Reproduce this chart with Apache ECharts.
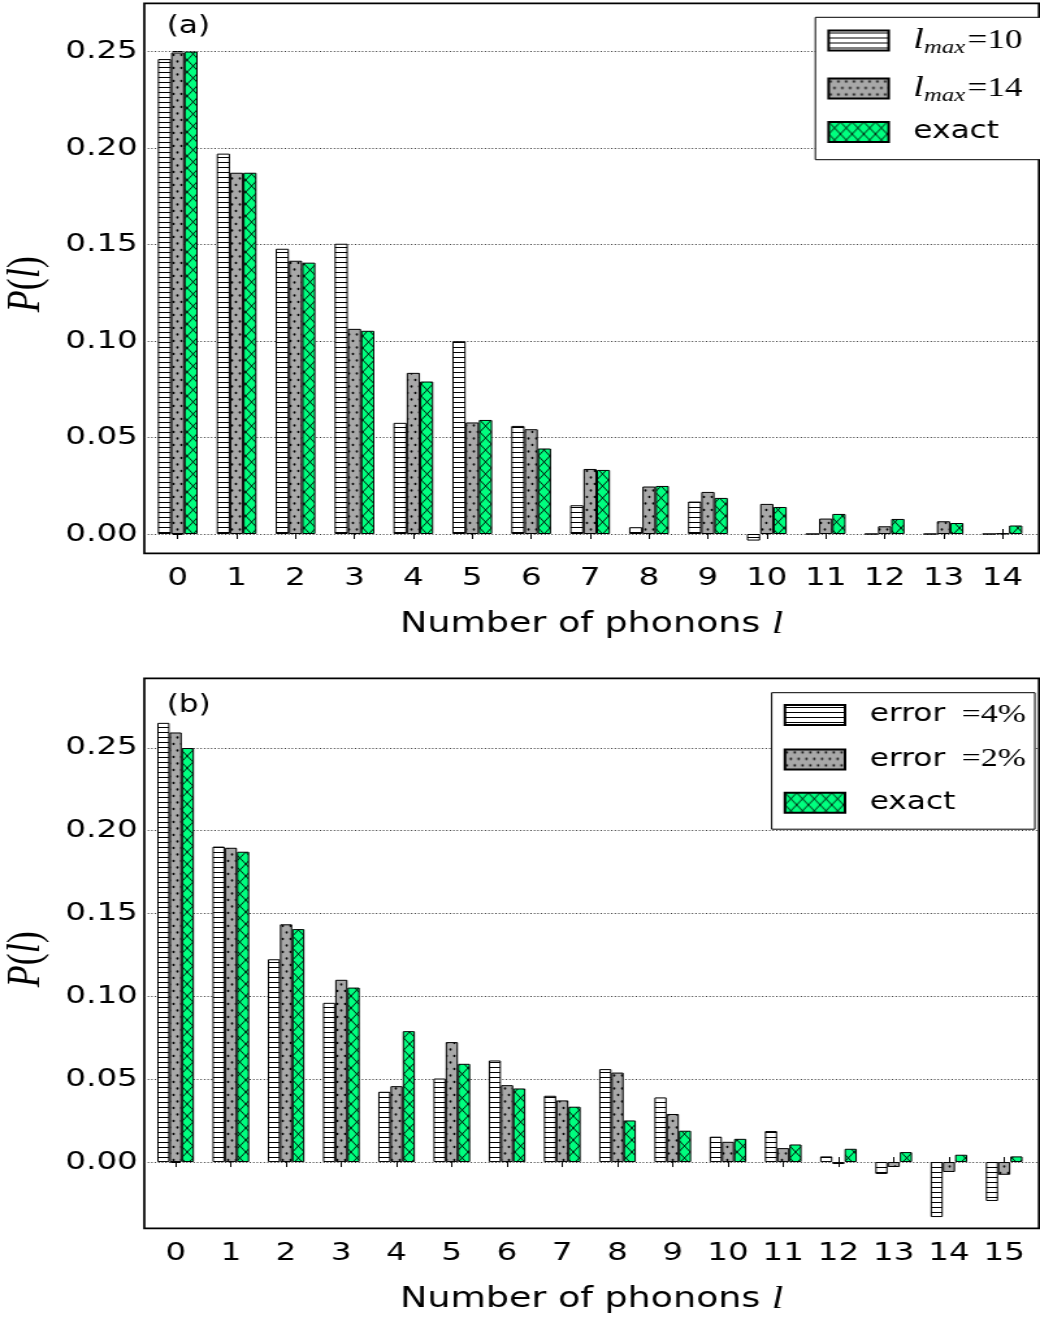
<!DOCTYPE html>
<html><head><meta charset="utf-8">
<script src="https://cdn.jsdelivr.net/npm/echarts@6/dist/echarts.min.js"></script>
<style>
html,body{margin:0;padding:0;background:#fff;overflow:hidden;}
#chart{width:800px;height:1322px;transform:scaleX(1.3);transform-origin:0 0;}
</style></head><body><div id="chart"></div>
<script>
// ---- data ----
const phononsA = [0,1,2,3,4,5,6,7,8,9,10,11,12,13,14];
const lmax10 = [0.2461,0.1971,0.1478,0.1504,0.0576,0.0999,0.0560,0.0149,0.0035,0.0168,-0.0034,0,0,0,0];
const lmax14 = [0.2495,0.1872,0.1416,0.1063,0.0835,0.0578,0.0543,0.0337,0.0246,0.0218,0.0156,0.0080,0.0040,0.0066,0.0003];
const exactA = [0.2500,0.1872,0.1406,0.1053,0.0790,0.0591,0.0443,0.0332,0.0249,0.0187,0.0140,0.0104,0.0078,0.0057,0.0044];
const phononsB = [0,1,2,3,4,5,6,7,8,9,10,11,12,13,14,15];
const err4 = [0.2651,0.1904,0.1224,0.0961,0.0424,0.0504,0.0613,0.0400,0.0561,0.0390,0.0153,0.0187,0.0034,-0.0072,-0.0332,-0.0235];
const err2 = [0.2593,0.1897,0.1435,0.1100,0.0458,0.0724,0.0464,0.0372,0.0540,0.0290,0.0122,0.0084,-0.0012,-0.0030,-0.0060,-0.0077];
const exactB = [0.2499,0.1873,0.1406,0.1053,0.0790,0.0593,0.0444,0.0334,0.0251,0.0189,0.0140,0.0106,0.0080,0.0060,0.0044,0.0034];
const yTickVals = [0,0.05,0.10,0.15,0.20,0.25];

// ---- patterns ----
function makePattern(w,h,bg,draw){
  const c=document.createElement('canvas'); c.width=w; c.height=h;
  const g=c.getContext('2d'); g.fillStyle=bg; g.fillRect(0,0,w,h); draw(g,w,h);
  return {image:c, repeat:'repeat'};
}
const patLines = makePattern(8,5,'#ffffff',(g,w)=>{g.fillStyle='#000'; g.fillRect(0,2,w,1);});
const patDots = makePattern(6,13,'#a8a8a8',(g)=>{
  g.fillStyle='#000';
  [[1.5,3],[4.5,9.5]].forEach(p=>{g.beginPath(); g.ellipse(p[0],p[1],0.9,1.15,0,0,Math.PI*2); g.fill();});
});
const patCross = makePattern(9,12,'#00ff7f',(g,w,h)=>{
  g.strokeStyle='#000'; g.lineWidth=0.9; g.beginPath();
  for(const dx of [-w,0,w]) for(const dy of [-h,0,h]){
    g.moveTo(dx,dy); g.lineTo(dx+w,dy+h);
    g.moveTo(dx+w,dy); g.lineTo(dx,dy+h);
  }
  g.stroke();
});

const FONT = 'DejaVu Sans';
const SERIF = 'Liberation Serif';

function xAxes(grid, maxV, ticks, showLabels, pos){
  return {
    gridIndex:grid, type:'value', min:-0.567, max:maxV, position:pos,
    axisLine:{show:false},
    axisTick:{show:true, inside:true, length:5, customValues:ticks, lineStyle:{color:'#000',width:1}},
    axisLabel:{show:showLabels, customValues:ticks, fontSize:25, fontFamily:FONT, color:'#000', margin:13},
    splitLine:{show:false},
    name: showLabels ? '{a|Number of phonons }{b|l}' : '',
    nameLocation:'middle', nameGap:56,
    nameTextStyle:{rich:{
      a:{fontFamily:FONT, fontSize:28, color:'#000'},
      b:{fontFamily:SERIF, fontStyle:'italic', fontSize:31, color:'#000'}
    }}
  };
}
function yAxes(grid, minV, maxV, left){
  return {
    gridIndex:grid, type:'value', min:minV, max:maxV, position:left?'left':'right',
    axisLine:{show:false},
    axisTick:{show:true, inside:true, length:3.8, customValues:yTickVals, lineStyle:{color:'#000',width:1}},
    axisLabel:{show:left, customValues:yTickVals, formatter:v=>v.toFixed(2), fontSize:25, fontFamily:FONT, color:'#000', margin:5},
    splitLine:{show:left, lineStyle:{color:'#333', type:[1,1.7], width:1}},
    name: left ? '{i|P}{r|(}{i|l}{r|)}' : '',
    nameLocation:'middle', nameRotate:90, nameGap:72,
    nameTextStyle:{padding:[0,12,0,0], rich:{
      i:{fontFamily:SERIF, fontStyle:'italic', fontSize:36, color:'#000'},
      r:{fontFamily:SERIF, fontSize:36, color:'#000'}
    }}
  };
}
function bar(name, xs, ys, xi, yi, pat, bw){
  return {
    type:'bar', name:name, xAxisIndex:xi, yAxisIndex:yi,
    data: xs.map((x,i)=>[x, ys[i]]),
    barWidth:bw, barGap:'0%',
    itemStyle:{color:pat, borderColor:'#000', borderWidth:1},
    emphasis:{disabled:true}
  };
}
const legendRich = {
  i:{fontFamily:SERIF, fontStyle:'italic', fontSize:29, lineHeight:20, color:'#000'},
  sub:{fontFamily:SERIF, fontStyle:'italic', fontSize:19, lineHeight:6, padding:[14,0,0,0], color:'#000'},
  m:{fontFamily:SERIF, fontSize:27, lineHeight:20, color:'#000', padding:[0,0,0,2]},
  e:{fontFamily:SERIF, fontSize:26, lineHeight:20, color:'#000', padding:[0,0,0,5]},
  s:{fontFamily:FONT, fontSize:24, lineHeight:20, color:'#000'}
};
const legendText = {
  'lmax10':'{i|l}{sub|max}{m|=10}',
  'lmax14':'{i|l}{sub|max}{m|=14}',
  'exact':'{s|exact}',
  'err4':'{s|error }{e|=4%}',
  'err2':'{s|error }{e|=2%}'
};
function legend(names, left, top, pad, gap){
  return {
    orient:'vertical', left:left, top:top, itemWidth:46.2, itemHeight:20, itemGap:gap,
    icon:'rect', selectedMode:false, data:names,
    padding:pad, borderColor:'#000', borderWidth:1, backgroundColor:'#fff',
    formatter:n=>legendText[n],
    textStyle:{fontSize:24, lineHeight:20, padding:[0,0,0,14], rich:legendRich}
  };
}

const chart = echarts.init(document.getElementById('chart'), null, {renderer:'canvas'});
chart.setOption({
  animation:false,
  backgroundColor:'#fff',
  title:[
    {text:'(a)', left:128.2, top:15, padding:0, textStyle:{fontSize:24, fontWeight:'normal', fontFamily:FONT, color:'#000'}},
    {text:'(b)', left:128.2, top:694, padding:0, textStyle:{fontSize:24, fontWeight:'normal', fontFamily:FONT, color:'#000'}}
  ],
  grid:[
    {left:111, top:3.3, width:688.2, height:550, outerBoundsMode:'none', containLabel:false, show:true, borderColor:'#000', borderWidth:1.7, backgroundColor:'transparent'},
    {left:111, top:678.3, width:688.2, height:550, outerBoundsMode:'none', containLabel:false, show:true, borderColor:'#000', borderWidth:1.7, backgroundColor:'transparent'}
  ],
  xAxis:[
    xAxes(0, 14.62, phononsA, true, 'bottom'),
    xAxes(0, 14.62, phononsA, false, 'top'),
    xAxes(1, 15.63, phononsB, true, 'bottom'),
    xAxes(1, 15.63, phononsB, false, 'top')
  ],
  yAxis:[
    yAxes(0, -0.01, 0.275, true),
    yAxes(0, -0.01, 0.275, false),
    yAxes(1, -0.04, 0.292, true),
    yAxes(1, -0.04, 0.292, false)
  ],
  legend:[
    legend(['lmax10','lmax14','exact'], 627.2, 17.3, [6.7, 16, 15.7, 9.2], 15),
    legend(['err4','err2','exact'], 593.6, 692.7, [9.3, 7, 14.4, 9.2], 18.4)
  ],
  series:[
    bar('lmax10', phononsA, lmax10, 0, 0, patLines, 10.2),
    bar('lmax14', phononsA, lmax14, 0, 0, patDots, 10.2),
    bar('exact', phononsA, exactA, 0, 0, patCross, 10.2),
    bar('err4', phononsB, err4, 2, 2, patLines, 9.4),
    bar('err2', phononsB, err2, 2, 2, patDots, 9.4),
    bar('exact', phononsB, exactB, 2, 2, patCross, 9.4)
  ]
});
</script></body></html>
